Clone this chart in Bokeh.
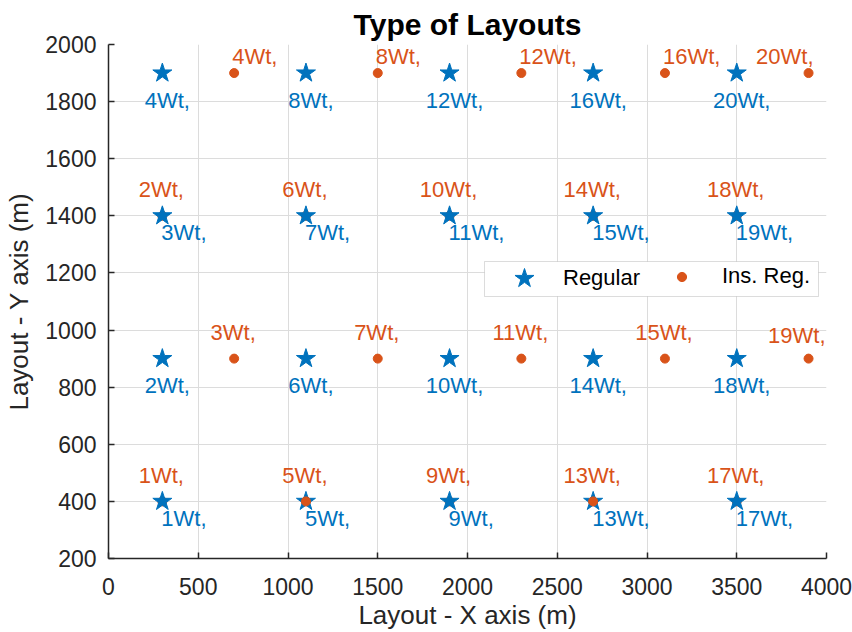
from bokeh.plotting import figure
from bokeh.models import (Range1d, FixedTicker, ColumnDataSource, Legend, LegendItem,
                          BoxAnnotation, Label)
from bokeh.embed import file_html
from bokeh.resources import INLINE

# ---------------- data ----------------
reg_x = [300, 300, 300, 300, 1100, 1100, 1100, 1100, 1900, 1900, 1900, 1900,
         2700, 2700, 2700, 2700, 3500, 3500, 3500, 3500]
reg_y = [400, 900, 1400, 1900] * 5
reg_labels = [f"{i}Wt," for i in range(1, 21)]

ins_x = [300, 300, 700, 700, 1100, 1100, 1500, 1500, 1900, 1900, 2300, 2300,
         2700, 2700, 3100, 3100, 3500, 3500, 3900, 3900]
ins_y = [400, 1400, 900, 1900] * 5
ins_labels = [f"{i}Wt," for i in range(1, 21)]
ins_drawn_over_star = [5, 13]   # orange dots that show on top of a star

x_ticks = [0, 500, 1000, 1500, 2000, 2500, 3000, 3500, 4000]
y_ticks = [200, 400, 600, 800, 1000, 1200, 1400, 1600, 1800, 2000]

BLUE = "#0072BD"
ORANGE = "#D95319"
FONT = "Liberation Sans"
DARK = "#262626"

p = figure(width=852, height=632, x_range=Range1d(0, 4000), y_range=Range1d(200, 2000),
           output_backend="svg", toolbar_location=None,
           min_border_left=108, min_border_right=26, min_border_top=44, min_border_bottom=74,
           title="Type of Layouts")
p.outline_line_color = None
p.background_fill_color = "white"
p.border_fill_color = "white"

p.title.align = "center"
p.title.text_font = FONT
p.title.text_font_size = "30px"
p.title.text_font_style = "bold"
p.title.text_color = "black"
p.title.standoff = 7

for ax, ticks in ((p.xaxis[0], x_ticks), (p.yaxis[0], y_ticks)):
    ax.ticker = FixedTicker(ticks=ticks)
    ax.minor_tick_line_color = None
    ax.major_tick_in = 6
    ax.major_tick_out = 0
    ax.major_tick_line_color = DARK
    ax.major_tick_line_width = 1.5
    ax.axis_line_color = DARK
    ax.axis_line_width = 1.5
    ax.major_label_text_font = FONT
    ax.major_label_text_font_size = "23px"
    ax.major_label_text_color = DARK
    ax.axis_label_text_font = FONT
    ax.axis_label_text_font_size = "26px"
    ax.axis_label_text_font_style = "normal"
    ax.axis_label_text_color = DARK

p.xaxis.axis_label = "Layout - X axis (m)"
p.yaxis.axis_label = "Layout - Y axis (m)"
p.xaxis.major_label_standoff = 19
p.yaxis.major_label_standoff = 12
p.xaxis.axis_label_standoff = 2
p.yaxis.axis_label_standoff = 8

for g in (p.xgrid[0], p.ygrid[0]):
    g.grid_line_color = "#dcdcdc"
    g.grid_line_width = 1
p.xgrid.ticker = FixedTicker(ticks=x_ticks)
p.ygrid.ticker = FixedTicker(ticks=y_ticks)

# ---------------- marks ----------------
ins_src = ColumnDataSource(dict(x=ins_x, y=ins_y, t=ins_labels))
reg_src = ColumnDataSource(dict(x=reg_x, y=reg_y, t=reg_labels))

r_ins = p.scatter("x", "y", source=ins_src, marker="circle", size=9,
                  fill_color=ORANGE, line_color=ORANGE)
r_reg = p.scatter("x", "y", source=reg_src, marker="star", size=20,
                  fill_color=BLUE, line_color=BLUE)
top_idx = [i - 1 for i in ins_drawn_over_star]
p.scatter([ins_x[i] for i in top_idx], [ins_y[i] for i in top_idx], marker="circle",
          size=9, fill_color=ORANGE, line_color=ORANGE)

# ---------------- labels ----------------
def add_text(idx, xs, ys, ts, color, align, dx, dy):
    for i in idx:
        p.add_layout(Label(x=xs[i], y=ys[i], text=ts[i],
                           text_color=color, text_font=FONT, text_font_size="22px",
                           text_align=align, text_baseline="middle",
                           x_offset=dx, y_offset=dy))

# blue labels
a = [i for i in range(20) if reg_y[i] in (400, 1400)]
b = [i for i in range(20) if reg_y[i] in (900, 1900)]
add_text(a, reg_x, reg_y, reg_labels, BLUE, "left", -1, -17)
add_text(b, reg_x, reg_y, reg_labels, BLUE, "center", 5, -27)

# orange labels (labels at the right edge are kept inside the frame)
xmax = 4000
edge = [i for i in range(20) if ins_x[i] >= xmax - 200]
c = [i for i in range(20) if ins_y[i] != 1900 and i not in edge]
c_edge = [i for i in range(20) if ins_y[i] != 1900 and i in edge]
d = [i for i in range(20) if ins_y[i] == 1900 and i not in edge]
e = [i for i in range(20) if ins_y[i] == 1900 and i in edge]
add_text(c, ins_x, ins_y, ins_labels, ORANGE, "center", -1, 26)
add_text(c_edge, ins_x, ins_y, ins_labels, ORANGE, "right", 17, 23)
add_text(d, ins_x, ins_y, ins_labels, ORANGE, "left", -2, 17)
add_text(e, ins_x, ins_y, ins_labels, ORANGE, "right", 5, 17)

# ---------------- legend ----------------
box = BoxAnnotation(left=376, right=710, bottom=262, top=297,
                    left_units="screen", right_units="screen",
                    bottom_units="screen", top_units="screen",
                    fill_color="white", fill_alpha=1.0,
                    line_color="#8c8c8c", line_width=1, level="overlay")
p.add_layout(box)

leg_a = Legend(items=[LegendItem(label="Regular", renderers=[r_reg])],
               location=(391, 255), orientation="horizontal",
               glyph_width=50, glyph_height=50, padding=0, margin=0,
               label_standoff=14, label_text_font=FONT, label_text_font_size="22px",
               label_text_color="black", border_line_color=None,
               background_fill_alpha=0.0)
leg_b = Legend(items=[LegendItem(label="Ins. Reg.", renderers=[r_ins])],
               location=(562, 269), orientation="horizontal",
               glyph_width=23, glyph_height=23, padding=0, margin=0,
               label_standoff=29, label_text_font=FONT, label_text_font_size="22px",
               label_text_color="black", border_line_color=None,
               background_fill_alpha=0.0)
p.add_layout(leg_a, "center")
p.add_layout(leg_b, "center")

open("out.html", "w").write(file_html(p, INLINE))
